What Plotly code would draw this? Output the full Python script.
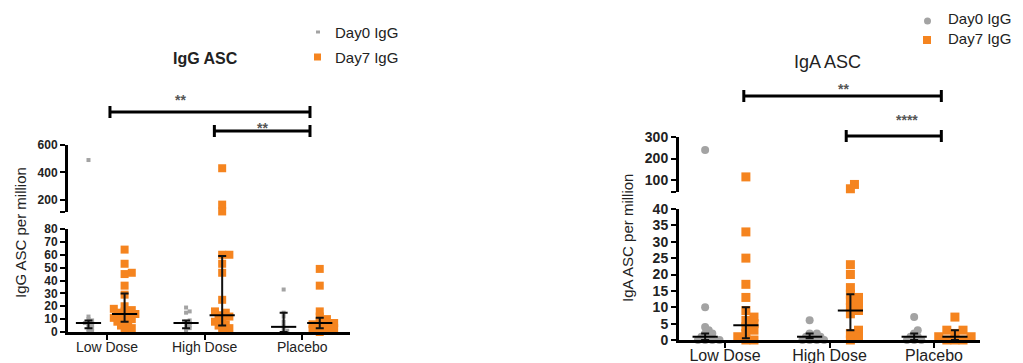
import plotly.graph_objects as go

W, H = 1023, 363

categories = ["Low Dose", "High Dose", "Placebo"]
series_names = ["Day0 IgG", "Day7 IgG"]

# ---- IgG ASC per million (left panel) ----
igg_day0 = [
    [0, 1, 2, 3, 4, 5, 6, 7, 7, 8, 9, 10, 12, 490],
    [0, 2, 3, 4, 5, 6, 7, 8, 9, 15, 16, 19],
    [0, 1, 3, 5, 8, 12, 15, 33],
]
igg_day7 = [
    [64, 53, 46, 45, 36, 29, 20, 18, 17, 16, 15, 14, 13, 12, 11, 10, 9, 8, 6, 5, 3, 2],
    [430, 164, 114, 60, 60, 53, 46, 25, 16, 15, 13, 12, 10, 8, 6, 5, 3, 2],
    [49, 36, 16, 12, 10, 8, 7, 6, 5, 4, 3, 2, 1, 0],
]
igg_median = [[7, 14], [7, 13], [4, 7]]
igg_q1 = [[3, 8], [3, 5], [0, 3]]
igg_q3 = [[9, 30], [9, 59], [15, 11]]

# ---- IgA ASC per million (right panel) ----
iga_day0 = [
    [240, 10, 4, 3, 2, 2, 1, 1, 0, 0, 0, 0],
    [6, 2, 2, 1, 1, 1, 0, 0, 0, 0],
    [7, 3, 2, 1, 1, 0, 0, 0],
]
iga_day7 = [
    [115, 33, 25, 17, 13, 9, 7, 6, 5, 4, 3, 2, 1, 0, 0],
    [80, 60, 23, 20, 16, 14, 13, 12, 11, 10, 9, 8, 3, 2, 1, 0],
    [7, 3, 3, 2, 1, 1, 0, 0, 0],
]
iga_median = [[1, 4.5], [1, 9], [1, 1]]
iga_q1 = [[0, 0.5], [0.5, 3], [0, 0]]
iga_q3 = [[2, 10], [2, 14], [2, 3]]

ORANGE = "#F5841F"
GRAY = "#A3A3A3"
FONT = "Liberation Sans"


def py(p):
    return 1 - p / H


def px(p):
    return p / W


def swarm(vals, to_px, xpx, size, dist):
    order = sorted(range(len(vals)), key=lambda i: vals[i])
    placed = []
    off = [0.0] * len(vals)
    step = size * 0.45
    for i in order:
        y = to_px(vals[i])
        k = 0
        while True:
            cand = ((k + 1) // 2) * step * (1 if k % 2 else -1)
            if all((cand - a) ** 2 + (y - b) ** 2 >= dist ** 2 for a, b in placed):
                break
            k += 1
        placed.append((cand, y))
        off[i] = cand / xpx
    return off


fig = go.Figure()


def panel(day0, day7, med, q1, q3, xa, ya_lo, ya_hi, lo_max, hi_min, lo_px, hi_px, gap,
          xpx, offs, sizes, syms):
    def to_px(v):
        if v <= lo_max:
            return v * lo_px
        return lo_max * lo_px + gap + (v - hi_min) * hi_px

    for s, (data, color) in enumerate([(day0, GRAY), (day7, ORANGE)]):
        for c, vals in enumerate(data):
            o = swarm(vals, to_px, xpx, sizes[s], sizes[s] * 0.6)
            xs = [c + offs[s] + d for d in o]
            lo = [(x, v) for x, v in zip(xs, vals) if v <= lo_max]
            hi = [(x, v) for x, v in zip(xs, vals) if v > lo_max]
            for pts, ya in ((lo, ya_lo), (hi, ya_hi)):
                if not pts:
                    continue
                fig.add_trace(go.Scatter(
                    x=[p[0] for p in pts], y=[p[1] for p in pts], mode="markers",
                    marker=dict(color=color, size=sizes[s], symbol=syms[s], line=dict(width=0)),
                    xaxis=xa, yaxis=ya, cliponaxis=False, showlegend=False,
                    hoverinfo="y"))
    for s in range(2):
        xs = [c + offs[s] for c in range(3)]
        ms = [med[c][s] for c in range(3)]
        fig.add_trace(go.Scatter(
            x=xs, y=ms, mode="markers",
            marker=dict(symbol="line-ew", size=18, line=dict(width=2, color="black"), color="black"),
            error_y=dict(type="data", symmetric=False,
                         array=[q3[c][s] - med[c][s] for c in range(3)],
                         arrayminus=[med[c][s] - q1[c][s] for c in range(3)],
                         width=4, thickness=2, color="#111"),
            xaxis=xa, yaxis=ya_lo, cliponaxis=False, showlegend=False, hoverinfo="skip"))


# left panel geometry
panel(igg_day0, igg_day7, igg_median, igg_q1, igg_q3, "x", "y", "y2",
      80, 110, 103 / 80, 67 / 490, 17, 97.6, (-0.19, 0.18), (4, 8), ("square", "square"))
# right panel geometry
panel(iga_day0, iga_day7, iga_median, iga_q1, iga_q3, "x2", "y3", "y4",
      40, 45, 131 / 40, 55 / 255, 17, 104.5, (-0.19, 0.2), (8, 9), ("circle", "square"))

axis_common = dict(showline=True, linecolor="black", linewidth=3, ticks="outside",
                   tickcolor="black", tickwidth=2, showgrid=False, zeroline=False,
                   fixedrange=True, automargin=False)

fig.update_layout(
    template="none",
    width=W, height=H, margin=dict(l=0, r=0, t=0, b=0, pad=0), autosize=False,
    plot_bgcolor="white", paper_bgcolor="white", showlegend=False,
    xaxis=dict(domain=[px(68), px(350)], range=[-0.4, 2.49], anchor="y",
               tickvals=[0, 1, 2], ticktext=categories, ticklen=5, ticklabelstandoff=-5,
               tickfont=dict(family=FONT, size=14, color="#222"), **axis_common),
    yaxis=dict(domain=[py(332), py(229)], range=[0, 80], anchor="x",
               tickvals=list(range(0, 81, 10)), ticklen=5,
               tickfont=dict(family=FONT, size=12, color="#222", weight="bold"), **axis_common),
    yaxis2=dict(domain=[py(212), py(145)], range=[110, 600], anchor="x",
                tickvals=[110, 200, 400, 600], ticktext=["", "200", "400", "600"], ticklen=5,
                tickfont=dict(family=FONT, size=12, color="#222", weight="bold"), **axis_common),
    xaxis2=dict(domain=[px(679), px(980)], range=[-0.44, 2.44], anchor="y3",
                tickvals=[0, 1, 2], ticktext=categories, ticklen=5, ticklabelstandoff=-6,
                tickfont=dict(family=FONT, size=16, color="#222"), **axis_common),
    yaxis3=dict(domain=[py(340), py(209)], range=[0, 40], anchor="x2",
                tickvals=list(range(0, 41, 5)), ticklen=5,
                tickfont=dict(family=FONT, size=14, color="#222", weight="bold"), **axis_common),
    yaxis4=dict(domain=[py(192), py(137)], range=[45, 300], anchor="x2",
                tickvals=[45, 100, 200, 300], ticktext=["", "100", "200", "300"], ticklen=5,
                tickfont=dict(family=FONT, size=14, color="#222", weight="bold"), **axis_common),
)

ann = []
shapes = []


def text(xp, yp, s, size, weight="normal", color="#222", angle=0, xanchor="center"):
    ann.append(dict(x=px(xp), y=py(yp), xref="paper", yref="paper", text=s, showarrow=False,
                    xanchor=xanchor, yanchor="middle", textangle=angle, borderpad=0,
                    font=dict(family=FONT, size=size, color=color, weight=weight)))


# titles and axis titles
text(205, 58, "IgG ASC", 16, "bold")
text(827, 62, "IgA ASC", 18)
text(20, 233, "IgG ASC per million", 15, angle=-90)
text(627, 238, "IgA ASC per million", 15, angle=-90)

# legends
text(334, 32, series_names[0], 15, xanchor="left")
text(334, 57, series_names[1], 15, xanchor="left")
text(947, 18, series_names[0], 15, xanchor="left")
text(947, 39, series_names[1], 15, xanchor="left")
shapes.append(dict(type="rect", xref="paper", yref="paper", x0=px(316), x1=px(320),
                   y0=py(33.5), y1=py(30.5), fillcolor=GRAY, line=dict(width=0)))
shapes.append(dict(type="rect", xref="paper", yref="paper", x0=px(314), x1=px(321),
                   y0=py(60.5), y1=py(53.5), fillcolor=ORANGE, line=dict(width=0)))
shapes.append(dict(type="circle", xref="paper", yref="paper", x0=px(924), x1=px(931),
                   y0=py(24.5), y1=py(17.5), fillcolor=GRAY, line=dict(width=0)))
shapes.append(dict(type="rect", xref="paper", yref="paper", x0=px(923), x1=px(931),
                   y0=py(44), y1=py(36), fillcolor=ORANGE, line=dict(width=0)))


def sigbar(xa, x0, x1, ypix, stars, sx, sy, ssize):
    shapes.append(dict(type="line", xref=xa, yref="paper", x0=x0, x1=x1, y0=py(ypix), y1=py(ypix),
                       line=dict(color="black", width=3)))
    for xx in (x0, x1):
        shapes.append(dict(type="line", xref=xa, yref="paper", x0=xx, x1=xx,
                           y0=py(ypix - 6), y1=py(ypix + 6), line=dict(color="black", width=3)))
    text(sx, sy, stars, ssize, "bold", color="#555")


sigbar("x", 0.03, 2.08, 112, "**", 180, 100, 14)
sigbar("x", 1.1, 2.08, 131, "**", 262, 128, 14)
sigbar("x2", 0.18, 2.07, 96, "**", 843, 89, 14)
sigbar("x2", 1.16, 2.07, 136, "****", 907, 120, 14)

fig.update_layout(annotations=ann, shapes=shapes)
fig.write_html("out.html", config={"displayModeBar": False},
               post_script="document.body.style.margin='0';document.body.style.overflow='hidden';")
